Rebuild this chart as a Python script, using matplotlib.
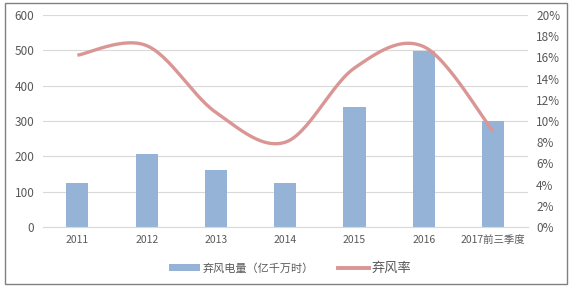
import matplotlib
matplotlib.use("Agg")
import matplotlib.pyplot as plt
import numpy as np
from matplotlib.patches import Rectangle
from matplotlib.lines import Line2D
from matplotlib.patches import Patch

plt.rcParams['font.family'] = ['Noto Sans CJK SC', 'DejaVu Sans']

categories = ['2011', '2012', '2013', '2014', '2015', '2016', '2017前三季度']
curtailed = [124, 208, 162, 125, 339, 497, 300]
rate = [16.2, 17.1, 10.8, 8.0, 15.0, 17.0, 9.0]

bar_color = '#95B3D7'
line_color = '#D99694'
text_color = '#595959'

def catmull_rom(xs, ys, n=30):
    xs = np.asarray(xs, float); ys = np.asarray(ys, float)
    px = np.concatenate([[xs[0]], xs, [xs[-1]]])
    py = np.concatenate([[ys[0]], ys, [ys[-1]]])
    ox, oy = [], []
    for i in range(1, len(px) - 2):
        p0 = np.array([px[i-1], py[i-1]]); p1 = np.array([px[i], py[i]])
        p2 = np.array([px[i+1], py[i+1]]); p3 = np.array([px[i+2], py[i+2]])
        c1 = p1 + (p2 - p0) / 6.0
        c2 = p2 - (p3 - p1) / 6.0
        t = np.linspace(0, 1, n)[:, None]
        pts = (1-t)**3*p1 + 3*(1-t)**2*t*c1 + 3*(1-t)*t**2*c2 + t**3*p2
        ox.extend(pts[:, 0]); oy.extend(pts[:, 1])
    return np.array(ox), np.array(oy)

fig = plt.figure(figsize=(5.70, 2.86), dpi=100)
ax = fig.add_axes([0.075, 0.206, 0.851, 0.742])
x = np.arange(len(categories))
ax.bar(x, curtailed, width=0.32, color=bar_color, zorder=2)
ax.set_ylim(0, 600)
ax.set_yticks(range(0, 601, 100))
ax.set_xlim(-0.5, len(categories) - 0.5)
ax.set_xticks(x)
ax.set_xticklabels(categories)
ax.grid(axis='y', color='#D9D9D9', linewidth=0.8, zorder=0)
for s in ['top', 'right', 'left']:
    ax.spines[s].set_visible(False)
ax.spines['bottom'].set_color('#D9D9D9')
ax.tick_params(axis='both', length=0, colors=text_color)
ax.tick_params(axis='y', labelsize=8.5, pad=6)
ax.tick_params(axis='x', labelsize=7.5, pad=6)

ax2 = ax.twinx()
sx, sy = catmull_rom(x, rate)
ax2.plot(sx, sy, color=line_color, linewidth=2.4, solid_capstyle='butt', zorder=3)
ax2.set_ylim(0, 20)
ax2.set_yticks(range(0, 21, 2))
ax2.set_yticklabels([f'{v}%' for v in range(0, 21, 2)])
for s in ['top', 'right', 'left', 'bottom']:
    ax2.spines[s].set_visible(False)
ax2.tick_params(axis='y', length=0, colors=text_color, labelsize=8.5, pad=6)

handles = [Patch(facecolor=bar_color, edgecolor='none'),
           Line2D([0], [0], color=line_color, linewidth=2.8)]
leg = fig.legend(handles, ['弃风电量（亿千万时）', '弃风率'], loc='center',
                 bbox_to_anchor=(0.509, 0.063), ncol=2, frameon=False,
                 fontsize=8, handlelength=2.8, handleheight=0.6,
                 columnspacing=2.1, handletextpad=0.3)
for t in leg.get_texts():
    t.set_color(text_color)
leg.get_texts()[1].set_fontsize(9.5)

fig.patches.append(Rectangle((0.009, 0.008), 0.985, 0.982, transform=fig.transFigure,
                             fill=False, edgecolor='#808080', linewidth=1.0))
fig.savefig('out.png', dpi=100)
